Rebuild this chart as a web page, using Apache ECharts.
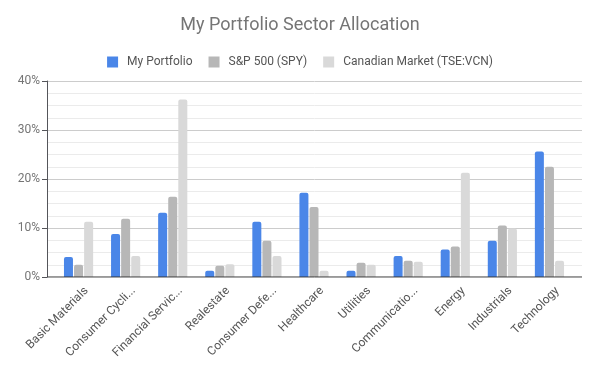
<!DOCTYPE html>
<html><head><meta charset="utf-8">
<script src="https://cdn.jsdelivr.net/npm/echarts@6/dist/echarts.min.js"></script>
<style>html,body{margin:0;padding:0;background:#fff}#c{width:600px;height:371px}</style>
</head><body><div id="c"></div>
<script>
var categories = ['Basic Materials','Consumer Cycli...','Financial Servic...','Realestate','Consumer Defe...','Healthcare','Utilities','Communicatio...','Energy','Industrials','Technology'];
var myPortfolio = [4.1, 8.8, 13.1, 1.3, 11.3, 17.2, 1.3, 4.3, 5.6, 7.4, 25.6];
var sp500 = [2.5, 11.9, 16.4, 2.3, 7.4, 14.3, 2.9, 3.3, 6.2, 10.5, 22.5];
var canadian = [11.3, 4.3, 36.2, 2.6, 4.3, 1.3, 2.5, 3.1, 21.3, 9.9, 3.3];
var seriesNames = ['My Portfolio', 'S&P 500 (SPY)', 'Canadian Market (TSE:VCN)'];
var colors = ['#4a86e8', '#b7b7b7', '#d9d9d9'];

var chart = echarts.init(document.getElementById('c'));
var font = 'Roboto, Arial, sans-serif';
function mk(name, data, color) {
  return { name: name, type: 'bar', data: data, barWidth: 9, barGap: '12%',
    xAxisIndex: 1, yAxisIndex: 1,
    itemStyle: { color: color, borderRadius: [2, 2, 0, 0] } };
}
chart.setOption({
  animation: false,
  color: colors,
  title: { text: 'My Portfolio Sector Allocation', left: 'center', top: 11,
    textStyle: { fontFamily: font, fontSize: 18, fontWeight: 'normal', color: '#757575' } },
  legend: { top: 51, left: 'center', itemWidth: 11, itemHeight: 11, itemGap: 16,
    icon: 'rect',
    textStyle: { fontFamily: font, fontSize: 12, color: '#555', padding: [0, 0, 0, 4] } },
  grid: [
    { left: 47, right: 18, top: 81, bottom: 94 },
    { left: 55, right: 27, top: 81, bottom: 94 },
    { left: 63, right: 19, top: 81, bottom: 94 }
  ],
  xAxis: [
    { type: 'value', gridIndex: 0, min: 0, max: 1, show: true,
      axisLine: { show: false }, axisTick: { show: false }, axisLabel: { show: false }, splitLine: { show: false } },
    { type: 'category', gridIndex: 1, data: categories,
      axisLine: { show: false }, axisTick: { show: false }, axisLabel: { show: false } },
    { type: 'category', gridIndex: 2, data: categories,
      axisLine: { show: false },
      axisTick: { show: false },
      axisLabel: { rotate: 45, fontFamily: font, fontSize: 12, color: '#555', margin: 12 } }
  ],
  yAxis: [
    { type: 'value', gridIndex: 0, min: 0, max: 40, interval: 10,
      axisLabel: { formatter: '{value}%', fontFamily: font, fontSize: 12, color: '#757575', margin: 7 },
      splitLine: { lineStyle: { color: '#cccccc' } },
      minorTick: { show: false, splitNumber: 4 },
      minorSplitLine: { show: true, lineStyle: { color: '#ebebeb' } } },
    { type: 'value', gridIndex: 1, min: 0, max: 40, interval: 10, show: false, splitLine: { show: false } },
    { type: 'value', gridIndex: 2, min: 0, max: 40, interval: 10, show: false, splitLine: { show: false } }
  ],
  series: [
    { type: 'line', xAxisIndex: 0, yAxisIndex: 0, data: [[0, 0], [1, 0]], symbol: 'none', silent: true,
      lineStyle: { color: '#333', width: 1 }, z: 5 },
    mk(seriesNames[0], myPortfolio, colors[0]), mk(seriesNames[1], sp500, colors[1]), mk(seriesNames[2], canadian, colors[2])
  ]
});
</script></body></html>
